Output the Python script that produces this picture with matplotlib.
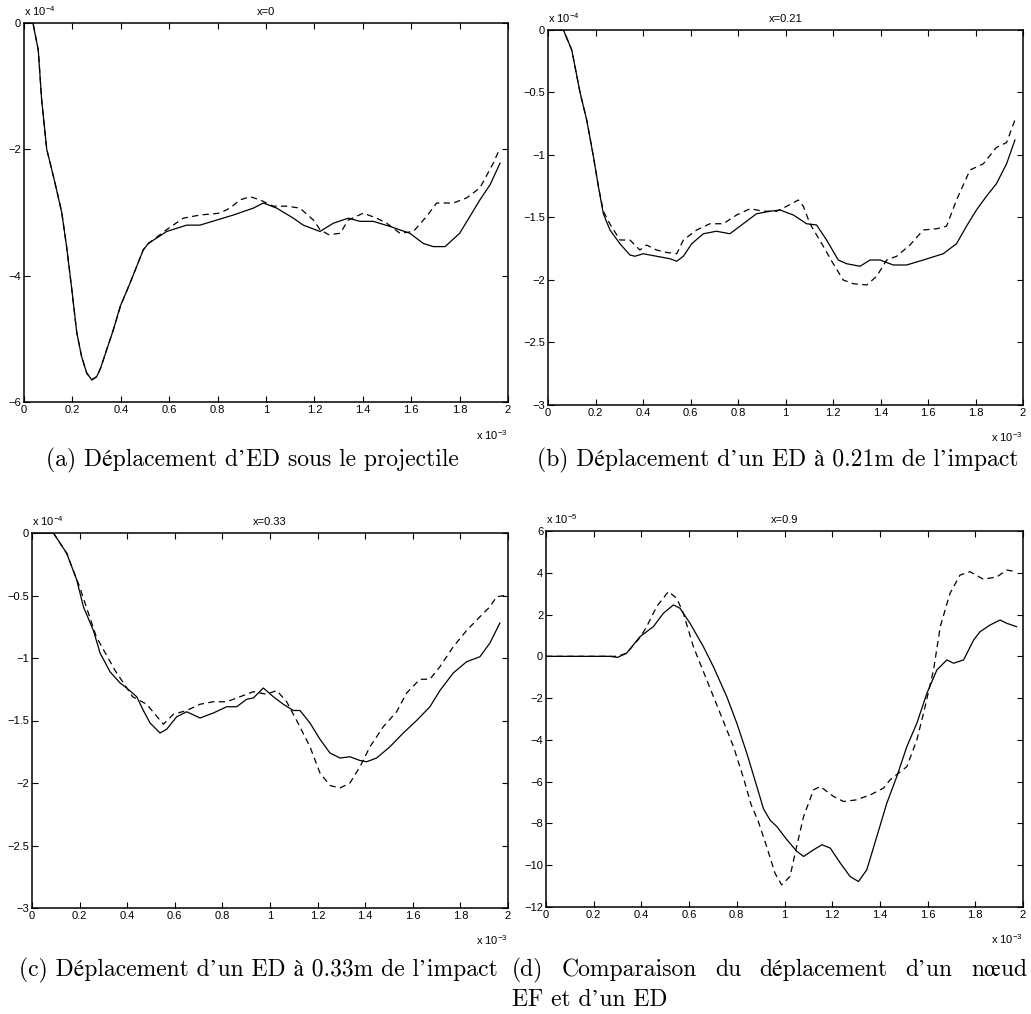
import matplotlib
matplotlib.use("Agg")
import matplotlib.pyplot as plt

# time axis in units of 1e-3 s, displacement in units of 1e-4 (1e-5 for panel d)
x_ticks = [0, 0.2, 0.4, 0.6, 0.8, 1.0, 1.2, 1.4, 1.6, 1.8, 2.0]
x_tick_labels = ["0", "0.2", "0.4", "0.6", "0.8", "1", "1.2", "1.4", "1.6", "1.8", "2"]

# (a) x=0
a_solid_t = [0, 0.037, 0.059, 0.073, 0.094, 0.107, 0.128, 0.156, 0.176, 0.197, 0.218, 0.238,
             0.259, 0.28, 0.3, 0.314, 0.342, 0.369, 0.397, 0.438, 0.493, 0.514, 0.59, 0.672,
             0.727, 0.796, 0.865, 0.948, 0.989, 1.044, 1.113, 1.154, 1.223, 1.278, 1.34, 1.388,
             1.443, 1.512, 1.595, 1.65, 1.691, 1.74, 1.80, 1.843, 1.884, 1.926, 1.967]
a_solid_y = [0, 0, -0.43, -1.22, -2.0, -2.2, -2.53, -3.0, -3.54, -4.2, -4.9, -5.28,
             -5.54, -5.65, -5.6, -5.49, -5.17, -4.86, -4.49, -4.12, -3.59, -3.49, -3.3, -3.2,
             -3.2, -3.12, -3.04, -2.93, -2.85, -2.93, -3.09, -3.2, -3.3, -3.17, -3.09, -3.14,
             -3.14, -3.22, -3.33, -3.49, -3.54, -3.54, -3.33, -3.06, -2.8, -2.56, -2.22]
a_dash_t = [0, 0.037, 0.059, 0.073, 0.094, 0.107, 0.128, 0.156, 0.176, 0.197, 0.218, 0.238,
            0.259, 0.28, 0.3, 0.318, 0.346, 0.372, 0.4, 0.44, 0.493, 0.514, 0.59, 0.658,
            0.727, 0.81, 0.851, 0.893, 0.934, 0.975, 1.03, 1.085, 1.14, 1.196, 1.223, 1.258,
            1.306, 1.34, 1.402, 1.457, 1.499, 1.554, 1.609, 1.664, 1.705, 1.774, 1.829, 1.884,
            1.939, 1.967]
a_dash_y = [0, 0, -0.43, -1.22, -2.0, -2.2, -2.53, -3.0, -3.54, -4.2, -4.9, -5.28,
            -5.54, -5.65, -5.6, -5.45, -5.12, -4.82, -4.47, -4.1, -3.59, -3.49, -3.27, -3.09,
            -3.04, -3.01, -2.93, -2.8, -2.75, -2.8, -2.9, -2.9, -2.93, -3.12, -3.27, -3.35,
            -3.33, -3.12, -3.01, -3.09, -3.17, -3.33, -3.3, -3.06, -2.85, -2.85, -2.77, -2.61,
            -2.22, -1.98]
a_y_ticks = [-6, -4, -2, 0]
a_y_labels = ["\u22126", "\u22124", "\u22122", "0"]

# (b) x=0.21
b_solid_t = [0, 0.065, 0.1, 0.135, 0.163, 0.191, 0.212, 0.233, 0.261, 0.303, 0.345, 0.366,
             0.401, 0.457, 0.514, 0.542, 0.57, 0.605, 0.654, 0.709, 0.766, 0.808, 0.878, 0.935,
             0.977, 1.033, 1.089, 1.131, 1.173, 1.222, 1.258, 1.314, 1.356, 1.398, 1.454, 1.51,
             1.58, 1.664, 1.72, 1.762, 1.804, 1.846, 1.888, 1.931, 1.966]
b_solid_y = [0, 0, -0.16, -0.5, -0.72, -1.01, -1.25, -1.47, -1.6, -1.71, -1.8, -1.81,
             -1.79, -1.81, -1.83, -1.85, -1.81, -1.71, -1.63, -1.61, -1.63, -1.57, -1.47, -1.45,
             -1.44, -1.48, -1.55, -1.56, -1.68, -1.84, -1.87, -1.89, -1.84, -1.84, -1.88, -1.88,
             -1.84, -1.79, -1.71, -1.57, -1.44, -1.33, -1.23, -1.07, -0.88]
b_dash_t = [0, 0.065, 0.1, 0.135, 0.163, 0.191, 0.212, 0.233, 0.26, 0.303, 0.345, 0.387,
            0.415, 0.457, 0.5, 0.542, 0.57, 0.626, 0.682, 0.738, 0.794, 0.851, 0.907, 0.963,
            1.005, 1.054, 1.075, 1.103, 1.159, 1.201, 1.243, 1.286, 1.342, 1.384, 1.426, 1.468,
            1.524, 1.58, 1.637, 1.678, 1.72, 1.777, 1.833, 1.888, 1.931, 1.966]
b_dash_y = [0, 0, -0.16, -0.5, -0.72, -1.01, -1.25, -1.45, -1.55, -1.68, -1.68, -1.76,
            -1.72, -1.76, -1.78, -1.79, -1.68, -1.6, -1.55, -1.55, -1.48, -1.43, -1.45, -1.45,
            -1.41, -1.36, -1.41, -1.55, -1.73, -1.87, -2.0, -2.03, -2.04, -1.97, -1.84, -1.81,
            -1.72, -1.6, -1.59, -1.57, -1.36, -1.12, -1.07, -0.94, -0.9, -0.72]
bc_y_ticks = [-3, -2.5, -2, -1.5, -1, -0.5, 0]
bc_y_labels = ["\u22123", "\u22122.5", "\u22122", "\u22121.5", "\u22121", "\u22120.5", "0"]

# (c) x=0.33
c_solid_t = [0, 0.09, 0.146, 0.188, 0.216, 0.258, 0.286, 0.328, 0.37, 0.398, 0.44, 0.468,
             0.496, 0.538, 0.566, 0.608, 0.65, 0.706, 0.762, 0.818, 0.86, 0.902, 0.93, 0.972,
             1.014, 1.056, 1.098, 1.126, 1.168, 1.21, 1.252, 1.294, 1.336, 1.378, 1.406, 1.448,
             1.504, 1.56, 1.616, 1.672, 1.714, 1.77, 1.826, 1.882, 1.924, 1.966]
c_solid_y = [0, 0, -0.163, -0.376, -0.59, -0.78, -0.96, -1.11, -1.2, -1.24, -1.31, -1.42,
             -1.52, -1.6, -1.57, -1.47, -1.43, -1.48, -1.44, -1.39, -1.39, -1.33, -1.32, -1.24,
             -1.31, -1.37, -1.42, -1.42, -1.52, -1.65, -1.76, -1.8, -1.79, -1.82, -1.83, -1.8,
             -1.71, -1.6, -1.5, -1.39, -1.26, -1.12, -1.03, -0.99, -0.88, -0.72]
c_dash_t = [0, 0.09, 0.146, 0.2, 0.27, 0.349, 0.423, 0.482, 0.552, 0.594, 0.65, 0.706,
            0.762, 0.818, 0.874, 0.93, 0.986, 1.028, 1.07, 1.112, 1.168, 1.21, 1.252, 1.294,
            1.336, 1.378, 1.42, 1.476, 1.532, 1.574, 1.63, 1.672, 1.714, 1.77, 1.826, 1.882,
            1.924, 1.952, 1.987]
c_dash_y = [0, 0, -0.163, -0.43, -0.83, -1.1, -1.31, -1.37, -1.53, -1.45, -1.42, -1.37,
            -1.35, -1.35, -1.31, -1.27, -1.29, -1.26, -1.35, -1.5, -1.71, -1.92, -2.02, -2.04,
            -2.0, -1.87, -1.71, -1.55, -1.43, -1.28, -1.17, -1.17, -1.07, -0.91, -0.78, -0.67,
            -0.59, -0.51, -0.5]

# (d) x=0.9 (units of 1e-5)
d_solid_t = [0, 0.268, 0.3, 0.338, 0.394, 0.45, 0.492, 0.534, 0.562, 0.604, 0.66, 0.702,
             0.758, 0.8, 0.842, 0.884, 0.912, 0.94, 0.968, 1.01, 1.052, 1.08, 1.122, 1.157,
             1.192, 1.234, 1.275, 1.31, 1.345, 1.387, 1.429, 1.471, 1.513, 1.555, 1.597, 1.639,
             1.681, 1.709, 1.751, 1.793, 1.82, 1.862, 1.904, 1.932, 1.973]
d_solid_y = [0, 0, -0.05, 0.15, 0.94, 1.42, 2.06, 2.46, 2.3, 1.58, 0.46, -0.5,
             -1.93, -3.2, -4.64, -6.23, -7.3, -7.85, -8.15, -8.78, -9.34, -9.58, -9.26, -9.02,
             -9.18, -9.9, -10.54, -10.78, -10.22, -8.63, -7.03, -5.75, -4.32, -3.2, -1.77, -0.65,
             -0.17, -0.33, -0.17, 0.78, 1.18, 1.5, 1.74, 1.58, 1.42]
d_dash_t = [0, 0.3, 0.338, 0.394, 0.422, 0.464, 0.513, 0.548, 0.576, 0.618, 0.674, 0.73,
            0.786, 0.83, 0.86, 0.89, 0.925, 0.96, 0.988, 1.023, 1.051, 1.08, 1.122, 1.15,
            1.206, 1.248, 1.302, 1.36, 1.415, 1.443, 1.513, 1.555, 1.583, 1.625, 1.653, 1.694,
            1.736, 1.778, 1.834, 1.89, 1.932, 1.974]
d_dash_y = [0, 0, 0.15, 0.9, 1.42, 2.38, 3.1, 2.78, 2.06, 0.46, -1.13, -2.72,
            -4.32, -5.9, -7.1, -7.9, -9.1, -10.38, -10.94, -10.54, -9.1, -7.67, -6.39, -6.23,
            -6.71, -6.95, -6.87, -6.63, -6.31, -5.91, -5.28, -4.0, -2.72, -0.65, 1.42, 3.02,
            3.89, 4.05, 3.69, 3.8, 4.13, 4.05]
d_y_ticks = [-12, -10, -8, -6, -4, -2, 0, 2, 4, 6]
d_y_labels = ["\u221212", "\u221210", "\u22128", "\u22126", "\u22124", "\u22122", "0", "2", "4", "6"]

titles = ["x=0", "x=0.21", "x=0.33", "x=0.9"]
exponents = ["x 10$^{-4}$", "x 10$^{-4}$", "x 10$^{-4}$", "x 10$^{-5}$"]
captions = ["(a) Déplacement d\u2019ED sous le projectile",
            "(b) Déplacement d\u2019un ED à 0.21m de l\u2019impact",
            "(c) Déplacement d\u2019un ED à 0.33m de l\u2019impact"]
caption_d_line1 = "(d) Comparaison du déplacement d\u2019un nœud"
caption_d_line2 = "EF et d\u2019un ED"

W, H = 1031, 1014
plt.rcParams["font.family"] = ["Liberation Sans", "DejaVu Sans"]
plt.rcParams["mathtext.fontset"] = "custom"
plt.rcParams["mathtext.rm"] = "Liberation Sans"
plt.rcParams["mathtext.it"] = "Liberation Sans"

fig = plt.figure(figsize=(W / 100, H / 100), dpi=100)


def px_axes(left, top, right, bottom):
    return fig.add_axes([left / W, 1 - bottom / H, (right - left) / W, (bottom - top) / H])


boxes = [(24, 23, 508, 402), (548, 30, 1023, 405), (32, 533, 508, 908), (546, 531, 1023, 907)]
series = [(a_solid_t, a_solid_y, a_dash_t, a_dash_y, a_y_ticks, a_y_labels),
          (b_solid_t, b_solid_y, b_dash_t, b_dash_y, bc_y_ticks, bc_y_labels),
          (c_solid_t, c_solid_y, c_dash_t, c_dash_y, bc_y_ticks, bc_y_labels),
          (d_solid_t, d_solid_y, d_dash_t, d_dash_y, d_y_ticks, d_y_labels)]

for i, (box, data) in enumerate(zip(boxes, series)):
    st, sy, dt, dy, yt, yl = data
    ax = px_axes(*box)
    ax.plot(dt, dy, color="black", lw=0.9, linestyle=(0, (5, 3.5)))
    ax.plot(st, sy, color="black", lw=0.9)
    ax.set_xlim(0, 2)
    ax.set_ylim(yt[0], yt[-1])
    ax.set_xticks(x_ticks)
    ax.set_xticklabels(x_tick_labels)
    ax.set_yticks(yt)
    ax.set_yticklabels(yl)
    ax.tick_params(direction="in", length=4, width=0.8, top=True, right=True,
                   labelsize=8, pad=2)
    for sp in ax.spines.values():
        sp.set_linewidth(1.1)
    ax.set_title(titles[i], fontsize=8, pad=6)
    ax.text(0.0, 1.012, exponents[i], transform=ax.transAxes, fontsize=8,
            ha="left", va="bottom")
    ax.text(1.0, -0.068, "x 10$^{-3}$", transform=ax.transAxes, fontsize=8,
            ha="right", va="top")

cap_font = ["cmr10", "STIXGeneral", "DejaVu Serif"]
cap_size = 17
fig.text(252 / W, 1 - 460 / H, captions[0], ha="center", va="center", fontsize=cap_size, family=cap_font)
fig.text(778 / W, 1 - 460 / H, captions[1], ha="center", va="center", fontsize=cap_size, family=cap_font)
fig.text(258 / W, 1 - 970 / H, captions[2], ha="center", va="center", fontsize=cap_size, family=cap_font)

# (d) caption: first line justified between x=512 and x=1027, like LaTeX
renderer = fig.canvas.get_renderer()
words = caption_d_line1.split(" ")
items = [fig.text(0, 1 - 970 / H, w, ha="left", va="center", fontsize=cap_size, family=cap_font)
         for w in words]
widths = [t.get_window_extent(renderer).width for t in items]
x0, x1 = 512, 1027
gap = (x1 - x0 - sum(widths)) / (len(words) - 1)
xpos = x0
for t, w in zip(items, widths):
    t.set_x(xpos / W)
    xpos += w + gap
fig.text(512 / W, 1 - 1000 / H, caption_d_line2, ha="left", va="center", fontsize=cap_size,
         family=cap_font)

fig.savefig("out.png", dpi=100)
